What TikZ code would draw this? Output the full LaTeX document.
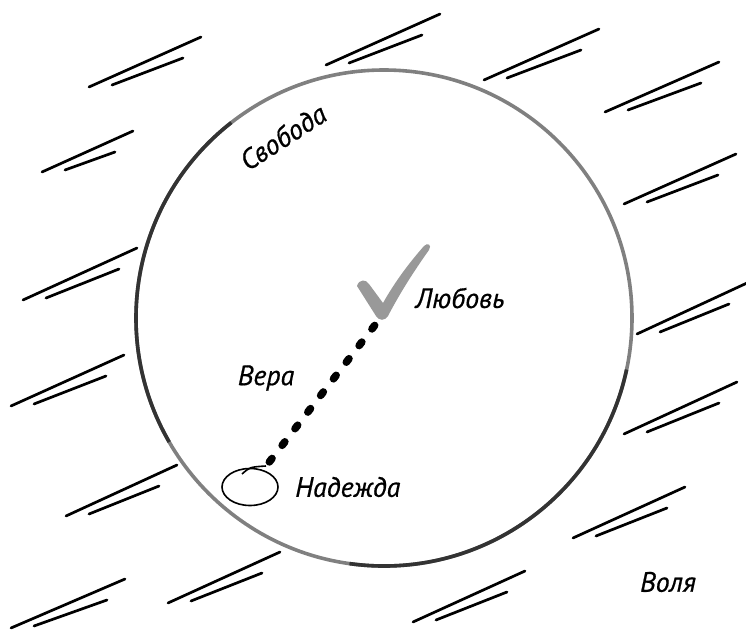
\documentclass[tikz,border=0pt]{standalone}
\usepackage{fontspec}
\setmainfont{PT Sans}
\newfontfamily\handfont{PT Sans Italic}[FakeBold=0.6]
\usepackage{tikz}
\usetikzlibrary{positioning, shapes.geometric}

\begin{document}
\begin{tikzpicture}[
      x=0.5pt, y=-0.5pt,
      word/.style={font=\fontsize{14}{16}\selectfont\handfont, inner sep=1pt},
      hatch/.style={line width=1.35pt, line cap=round},
      ring/.style={draw=black!50, line width=1.8pt},
      ringdark/.style={draw=black!80, line width=1.8pt},
      faith/.style={line width=3.8pt, line cap=round,
        dash pattern=on 2.2pt off 8.3pt, shorten <=5pt},
      hopering/.style={draw, ellipse, line width=0.8pt, minimum width=28pt,
        minimum height=18.5pt, inner sep=0pt}
    ]
    \useasboundingbox (0,0) rectangle (746,633);
    \foreach \ax/\ay/\bx/\by in {89/87/201/37, 42/172/133/131, 23/300/137/248,
        326/65/440/14, 484/80/599/29, 605/112/719/62, 624/204/736/154,
        637/334/747/283, 624/434/737/382, 573/538/685/487, 413/622/525/571,
        11/406/124/355, 66/516/177/465, 168/603/280/552, 11/628/125/579} {
      \draw[hatch] (\ax,\ay) -- (\bx,\by);
      \draw[hatch] (\ax+23,\ay-2) -- (\bx-18,\by+21);
    }
    \draw[ring] (384,318) circle (248);
    \draw[ringdark] (384,318) ++(150:248) arc (150:232:248);
    \draw[ringdark] (384,318) ++(12:248) arc (12:98:248);
    \fill[black!40] (357,286) .. controls (359,279) and (366,279) .. (369,284)
      -- (383,303) .. controls (396,280) and (410,262) .. (424,246)
      .. controls (428,242) and (432,245) .. (429,250)
      .. controls (414,271) and (400,293) .. (388,316)
      .. controls (385,321) and (379,321) .. (376,316) -- cycle;
    \node[word, rotate=33] (freedom) at (283,137) {Свобода};
    \node[word] (love) at (460,298) {Любовь};
    \node[word] (faith) at (266,378) {Вера};
    \node[hopering] (hope) at (250,487) {};
    \node[word, right=7pt of hope] (hopeword) {Надежда};
    \node[word] (will) at (668,582) {Воля};
    \coordinate (lovept) at (375,325);
    \draw[line width=0.8pt] (242,474) .. controls (250,467) .. (266,466);
    \draw[faith] (hope) -- (lovept);
  \end{tikzpicture}
\end{document}
